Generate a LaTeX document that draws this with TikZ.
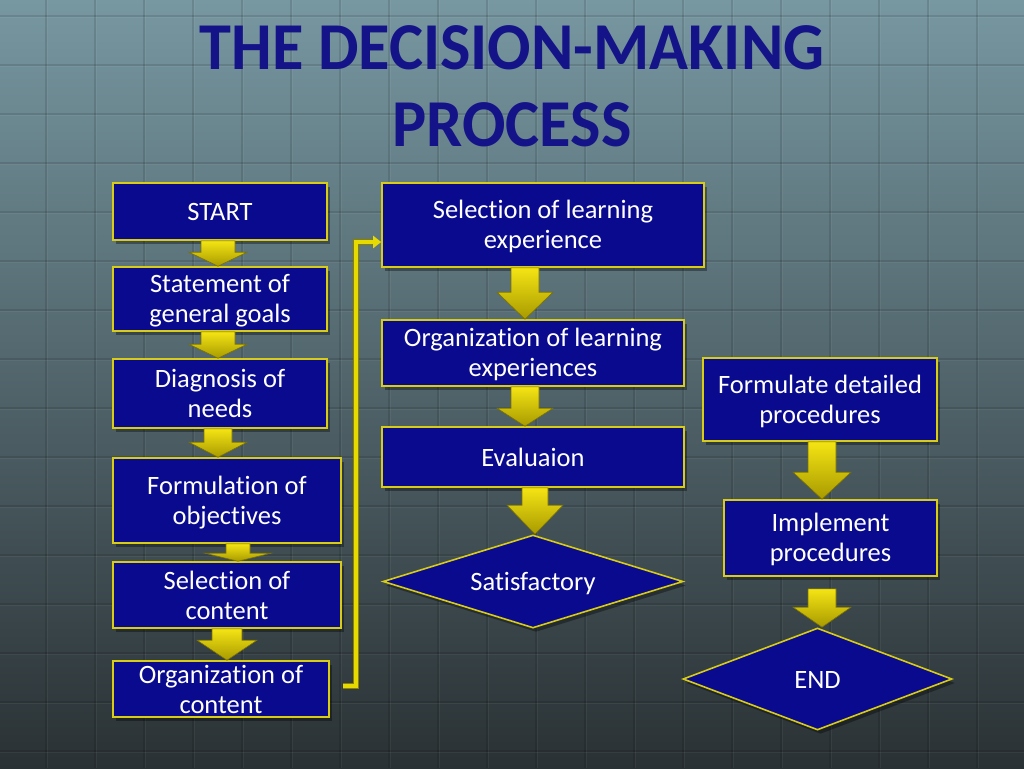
\documentclass[tikz,border=0pt]{standalone}
\usepackage{fontspec}
\setmainfont{Carlito}[Ligatures=NoCommon]
\usetikzlibrary{shapes.geometric,shadows,calc,arrows.meta}
\definecolor{boxblue}{HTML}{0A0A8E}
\definecolor{boxline}{HTML}{D8CC14}
\definecolor{titleblue}{HTML}{141488}
\definecolor{bgtop}{HTML}{7797A1}
\definecolor{bgmid}{HTML}{4E656C}
\definecolor{bgbot}{HTML}{2A3134}
\definecolor{arrtop}{HTML}{F4E414}
\definecolor{arrbot}{HTML}{A89A00}
\definecolor{arrline}{HTML}{7A7000}
\definecolor{connyel}{HTML}{E6DA00}
\definecolor{connedge}{HTML}{8A8000}
\newcommand\sr{\rule[-4pt]{0pt}{26pt}}
\newcommand\barrow[6]{%
  \path[barr] let \p1=#2, \p2=#3 in
    ({#1pt-#4pt},\y1) -- ({#1pt+#4pt},\y1) -- ({#1pt+#4pt},{\y2+#6pt})
    -- ({#1pt+#5pt},{\y2+#6pt}) -- ({#1pt},\y2) -- ({#1pt-#5pt},{\y2+#6pt})
    -- ({#1pt-#4pt},{\y2+#6pt}) -- cycle;}
\begin{document}
\begin{tikzpicture}[x=1pt,y=-1pt,
  box/.style={draw=boxline, line width=1.6pt, fill=boxblue, text=white,
    font=\fontsize{26.5}{30}\selectfont, align=center, inner sep=0pt,
    drop shadow={shadow xshift=3pt, shadow yshift=-4pt, opacity=0.35, fill=black}},
  dia/.style={box, diamond, aspect=3},
  barr/.style={top color=arrtop, bottom color=arrbot, draw=arrline, line width=0.6pt},
  gridline/.style={draw=black, opacity=0.11, line width=1.6pt},
  gridlight/.style={draw=white, opacity=0.05, line width=1pt},
  ttl/.style={font=\fontsize{67}{70}\bfseries\selectfont, text=titleblue, anchor=base, inner sep=0pt},
  connbase/.style={draw=connedge, line width=6pt},
  conn/.style={draw=connyel, line width=4pt, -{Triangle[length=8pt,width=12pt]}}
]
\useasboundingbox (0,0) rectangle (1024,768);
\shade[top color=bgtop, middle color=bgmid, bottom color=bgbot] (0,0) rectangle (1024,768);
\foreach \x in {46,95,...,1024} {\draw[gridline] (\x,0) -- (\x,768); \draw[gridlight] (\x+1.5,0) -- (\x+1.5,768);}
\foreach \y in {16,65,...,768} {\draw[gridline] (0,\y) -- (1024,\y); \draw[gridlight] (0,\y+1.5) -- (1024,\y+1.5);}

% title
\node[ttl] (t1) at (512,70) {\scalebox{0.96}[1]{THE DECISION-MAKING}};
\node[ttl] (t2) at (512,146) {\scalebox{0.96}[1]{PROCESS}};

% left column
\node[box, minimum width=214pt, minimum height=57pt] (start) at (220,211.5) {\sr START};
\node[box, minimum width=214pt, minimum height=64pt] (goals) at (220,299) {\sr Statement of\\\sr general goals};
\node[box, minimum width=214pt, minimum height=69pt] (diag) at (220,393.5) {\sr Diagnosis of\\\sr needs};
\node[box, minimum width=228pt, minimum height=85pt] (obj) at (227,500.5) {\sr Formulation of\\\sr objectives};
\node[box, minimum width=228pt, minimum height=66pt] (selc) at (227,595) {\sr Selection of\\\sr content};
\node[box, minimum width=216pt, minimum height=56pt] (orgc) at (221,689) {\sr Organization of\\\sr content};

% middle column
\node[box, minimum width=322pt, minimum height=84pt] (sle) at (543,225) {\sr Selection of learning\\\sr experience};
\node[box, minimum width=302pt, minimum height=66pt] (ole) at (533,353) {\sr Organization of learning\\\sr experiences};
\node[box, minimum width=302pt, minimum height=60pt] (eval) at (533,457) {\sr Evaluaion};
\node[dia, minimum width=300pt, minimum height=93pt] (sat) at (533,581.5) {\sr Satisfactory};

% right column
\node[box, minimum width=234pt, minimum height=83pt] (fdp) at (820,399.5) {\sr Formulate detailed\\\sr procedures};
\node[box, minimum width=213pt, minimum height=76pt] (imp) at (830.5,538) {\sr Implement\\\sr procedures};
\node[dia, minimum width=269pt, minimum height=102pt] (end) at (817.5,679) {\sr END};

% block arrows
\barrow{218}{(start.south)}{(goals.north)}{17}{29}{14}
\barrow{218}{(goals.south)}{(diag.north)}{17}{29}{14}
\barrow{218}{(diag.south)}{(obj.north)}{14}{29}{15}
\barrow{238}{(obj.south)}{(selc.north)}{12}{33}{8}
\barrow{227}{(selc.south)}{(orgc.north)}{15}{30}{20}
\barrow{525}{(sle.south)}{(ole.north)}{14}{28}{27}
\barrow{525}{(ole.south)}{(eval.north)}{14}{28}{18}
\barrow{535}{(eval.south)}{(sat.north)}{13}{28}{29}
\barrow{822}{(fdp.south)}{(imp.north)}{14}{29}{27}
\barrow{822}{([yshift=-12pt]imp.south)}{(end.north)}{14}{29}{20}

% connector
\coordinate (c1) at (356,686);
\coordinate (c2) at (356,242);
\draw[connbase, line join=miter] ([xshift=13pt,yshift=3pt]orgc.east) -- (c1) -- (c2) -- ([xshift=-9pt]sle.west |- c2);
\draw[conn, line join=miter] ([xshift=13pt,yshift=3pt]orgc.east) -- (c1) -- (c2) -- (sle.west |- c2);
\end{tikzpicture}
\end{document}
